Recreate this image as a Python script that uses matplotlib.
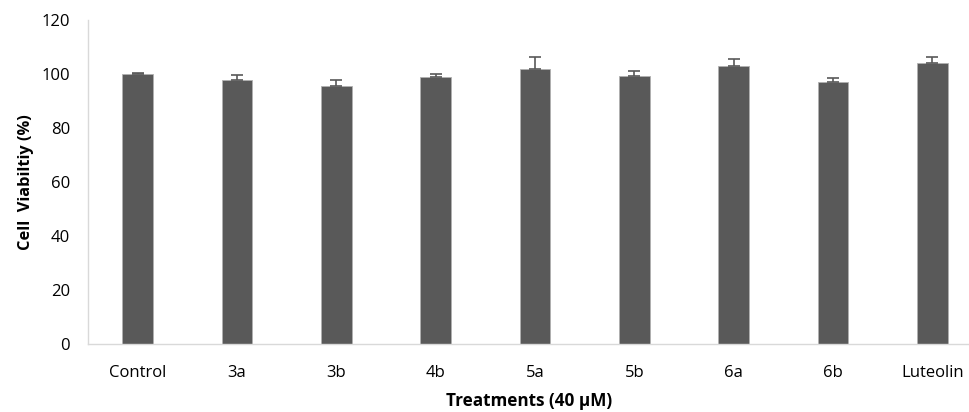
import numpy as np
import matplotlib.pyplot as plt

treatments = ["Control", "3a", "3b", "4b", "5a", "5b", "6a", "6b", "Luteolin"]
viability = [100.0, 98.0, 95.8, 98.9, 102.0, 99.5, 103.1, 97.2, 104.2]
errors = [0.5, 1.7, 2.1, 1.1, 4.6, 1.6, 2.8, 1.6, 2.4]

plt.rcParams['font.family'] = ['Open Sans', 'DejaVu Sans']

fig = plt.figure(figsize=(9.7, 4.12), dpi=100)
ax = fig.add_axes([88/970, 1 - 344/412, 1 - 88/970, (344 - 20.5)/412])

x = np.arange(len(treatments))
ax.bar(x, viability, width=0.31, color='#595959', edgecolor='#b0b0b0', linewidth=0.6, zorder=2)
ax.errorbar(x, viability, yerr=[np.zeros(len(errors)), errors], fmt='none',
            ecolor='#595959', elinewidth=1.2, capsize=4.5, capthick=1.2, zorder=3)

ax.set_xlim(-0.5, 8.38)
ax.set_ylim(0, 120)
ax.set_yticks(range(0, 121, 20))
ax.set_xticks(x)
ax.set_xticklabels(treatments)
ax.tick_params(axis='both', length=0, labelsize=12, colors='#000000')
ax.tick_params(axis='x', pad=15)
ax.tick_params(axis='y', pad=13)

for s in ['top', 'right']:
    ax.spines[s].set_visible(False)
for s in ['left', 'bottom']:
    ax.spines[s].set_color('#d9d9d9')
    ax.spines[s].set_linewidth(1)

ax.set_ylabel("Cell  Viabiltiy (%)", fontsize=11.8, fontweight='bold', labelpad=5)
ax.set_xlabel("Treatments (40 \u00b5M)", fontsize=12.3, fontweight='bold', labelpad=8)

fig.savefig("out.png", dpi=100)
